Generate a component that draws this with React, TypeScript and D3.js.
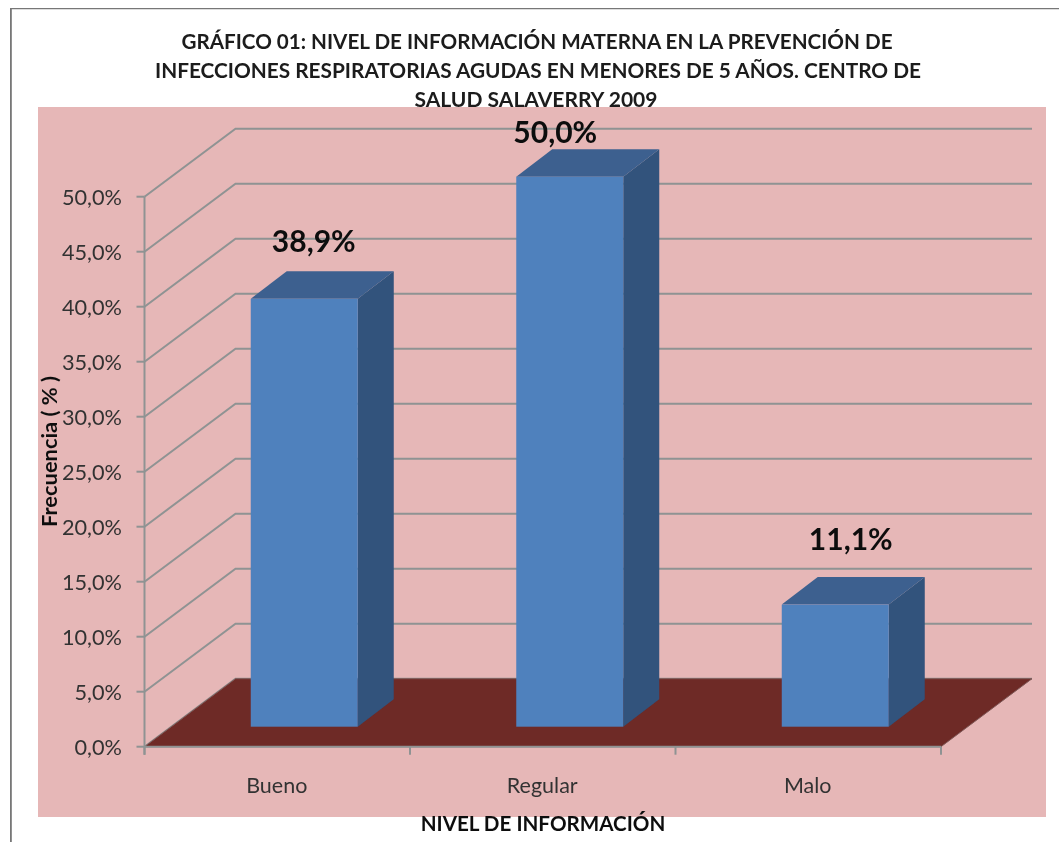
import React from "react";
import * as d3 from "d3";

const categories = ["Bueno", "Regular", "Malo"];
const values = [38.9, 50.0, 11.1];
const valueLabels = ["38,9%", "50,0%", "11,1%"];
const yTicks = [0, 5, 10, 15, 20, 25, 30, 35, 40, 45, 50];
const titleLines = [
  "GRÁFICO 01: NIVEL DE INFORMACIÓN MATERNA EN LA PREVENCIÓN DE",
  "INFECCIONES RESPIRATORIAS AGUDAS EN MENORES DE 5 AÑOS. CENTRO  DE",
  "SALUD SALAVERRY 2009",
];
const titleCenters = [537, 538, 536];
const titleWidths = [711, 766, 243];
const labelOffsets = [63, 39, 69];
const labelBaselines = [252, 143, 550];
const FONT = "Lato, 'Open Sans', sans-serif";

export default function App() {
  const axisX = 144.5, frontRight = 941, baseY = 746.7, topY = 196.7;
  const dx = 91, dy = 68;
  const barDx = 36, barDy = 27.5;
  const y = d3.scaleLinear().domain([0, 50]).range([baseY, topY]);
  const x = d3.scaleBand<string>().domain(categories).range([axisX, frontRight]).paddingInner(0).paddingOuter(0);
  const barW = 107;
  const barLift = 20;
  const grid = "#8f9393";
  const sw = 2;
  const line = d3.line();

  const floor = line([[axisX, baseY], [axisX + dx, baseY - dy], [frontRight + dx, baseY - dy], [frontRight, baseY]]) + "Z";

  return (
    <svg width={1059} height={842} style={{ position: "absolute", left: 0, top: 0, background: "#fff" }} fontFamily={FONT}>
      <defs>
        <filter id="soft" x="0" y="0" width="100%" height="100%">
          <feGaussianBlur stdDeviation={0.45} />
        </filter>
      </defs>
      <g filter="url(#soft)">
        <path d="M10.5,842V8H1059" fill="none" stroke="#777" strokeWidth={2.6} />
        <rect x={38} y={107} width={1008} height={710} fill="#e6b7b7" />

        {yTicks.map((t) => (
          <path key={t} fill="none" stroke={grid} strokeWidth={sw}
            d={line([[axisX, y(t)], [axisX + dx, y(t) - dy], [frontRight + dx, y(t) - dy]]) as string} />
        ))}
        <path d={floor} fill="#6e2926" stroke="#7f5a58" strokeWidth={1} />
        <path d={line([[axisX, topY], [axisX, baseY + 8]]) as string} stroke={grid} strokeWidth={sw} fill="none" />
        <path d={line([[axisX, baseY], [frontRight, baseY]]) as string} stroke={grid} strokeWidth={sw} fill="none" />
        {yTicks.map((t) => (
          <g key={t}>
            <path d={line([[axisX - 8, y(t)], [axisX, y(t)]]) as string} stroke={grid} strokeWidth={sw} />
            <text x={122} y={y(t) + 8.3} textAnchor="end" fontSize={21.7} fill="#333">
              {t.toFixed(1).replace(".", ",")}%
            </text>
          </g>
        ))}
        {[...categories.map((c) => x(c) as number), frontRight].map((p) => (
          <path key={p} d={line([[p, baseY], [p, baseY + 8]]) as string} stroke={grid} strokeWidth={sw} />
        ))}
        {categories.map((c) => (
          <text key={c} x={(x(c) as number) + x.bandwidth() / 2 - 0.5} y={793} textAnchor="middle" fontSize={21.5} fill="#333">
            {c}
          </text>
        ))}

        {categories.map((c, i) => {
          const l = (x(c) as number) + (x.bandwidth() - barW) / 2 + 27;
          const r = l + barW;
          const b = baseY - barLift;
          const t = b - (baseY - y(values[i]));
          return (
            <g key={c}>
              <path fill="#30527b" d={line([[r, t], [r + barDx, t - barDy], [r + barDx, b - barDy], [r, b]]) + "Z"} />
              <path fill="#3c618f" d={line([[l, t], [l + barDx, t - barDy], [r + barDx, t - barDy], [r, t]]) + "Z"} />
              <rect x={l} y={t} width={barW} height={b - t} fill="#4f81bd" />
              <text x={l + labelOffsets[i]} y={labelBaselines[i]} textAnchor="middle" fontSize={30} fontWeight={700} fill="#0d0d0d">
                {valueLabels[i]}
              </text>
            </g>
          );
        })}

        {titleLines.map((s, i) => (
          <text key={i} x={titleCenters[i]} y={49.3 + i * 28.6} textAnchor="middle" fontSize={20.5} fontWeight={700} fill="#1a1a1a"
            textLength={titleWidths[i]} lengthAdjust="spacingAndGlyphs">
            {s}
          </text>
        ))}
        <text transform="translate(57,451.5) rotate(-90)" textAnchor="middle" fontSize={20.5} fontWeight={700} fill="#111"
          textLength={151} lengthAdjust="spacingAndGlyphs">
          Frecuencia ( % )
        </text>
        <text x={543} y={831} textAnchor="middle" fontSize={20.6} fontWeight={700} fill="#111">
          NIVEL DE INFORMACIÓN
        </text>
      </g>
    </svg>
  );
}
